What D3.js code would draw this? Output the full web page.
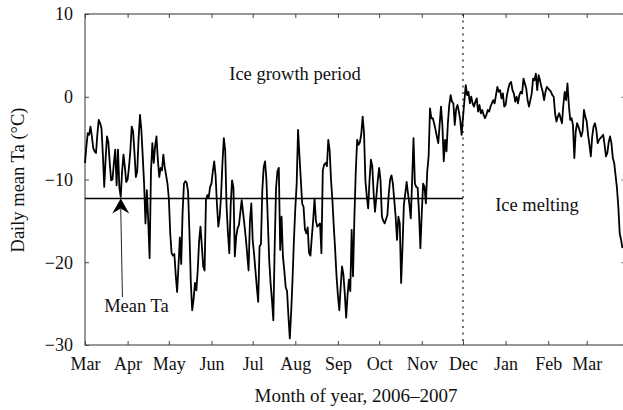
<!DOCTYPE html>
<html>
<head>
<meta charset="utf-8">
<script src="https://cdn.jsdelivr.net/npm/d3@7"></script>
<style>
  html, body { margin: 0; padding: 0; background: #fff; }
  svg { display: block; }
  text { font-family: "Liberation Serif", "Times New Roman", serif; fill: #111; }
</style>
</head>
<body>
<svg id="chart" width="623" height="410"></svg>
<script>
// Daily mean air temperature (°C), one value per day from 1 Mar 2006
const seriesStart = "2006-03-01";
const marchTa = [-8.0,-6.0,-4.4,-4.6,-3.6,-4.8,-6.2,-6.6,-6.8,-4.5,-2.8,-3.2,-3.8,-7.0,-10.9,-7.5,-4.8,-5.5,-8.0,-10.1,-10.0,-8.0,-6.4,-10.7,-6.4,-11.0,-12.1,-9.0,-7.0,-8.5,-10.3];
const aprilTa = [-10.0,-8.5,-6.5,-3.6,-4.2,-6.8,-9.7,-9.0,-5.0,-2.2,-4.0,-7.2,-10.5,-15.3,-11.3,-15.0,-19.5,-9.0,-5.6,-8.0,-6.0,-4.8,-7.6,-9.7,-8.6,-8.9,-7.0,-8.5,-9.5,-10.5];
const mayTa = [-12.3,-16.5,-18.9,-19.2,-19.0,-21.5,-23.6,-20.5,-17.0,-20.2,-14.0,-10.5,-10.2,-10.4,-11.5,-16.5,-22.5,-25.8,-24.5,-22.5,-23.4,-21.0,-17.5,-15.7,-18.0,-20.5,-21.0,-12.5,-11.9,-12.2,-10.9];
const juneTa = [-10.5,-9.0,-7.8,-9.5,-13.0,-15.7,-14.5,-11.9,-8.0,-5.0,-6.5,-13.3,-16.5,-18.9,-13.0,-10.1,-11.0,-19.3,-16.9,-15.9,-15.5,-14.0,-12.5,-14.0,-15.5,-17.1,-19.0,-21.0,-15.0,-12.9];
const julyTa = [-17.3,-19.0,-21.0,-23.0,-24.8,-18.1,-17.8,-11.3,-8.5,-7.8,-10.1,-15.0,-19.7,-22.5,-24.5,-27.0,-18.1,-11.0,-9.0,-8.6,-18.5,-14.5,-19.3,-21.0,-23.0,-23.5,-26.5,-29.2,-26.0,-22.0,-17.3];
const augustTa = [-13.5,-10.5,-4.0,-7.0,-10.0,-12.9,-13.3,-16.0,-16.5,-15.8,-18.9,-19.2,-17.0,-14.9,-12.3,-15.0,-15.7,-15.5,-15.3,-18.9,-8.9,-8.2,-8.0,-8.4,-5.2,-6.5,-10.1,-12.5,-15.7,-18.5,-21.7];
const septemberTa = [-24.0,-25.8,-23.0,-20.5,-21.5,-23.8,-26.7,-24.0,-22.1,-23.5,-16.1,-21.7,-14.5,-9.0,-5.2,-5.8,-5.5,-4.5,-2.4,-4.4,-10.1,-12.0,-13.5,-10.1,-7.6,-8.4,-11.7,-13.9,-12.0,-10.1];
const octoberTa = [-8.6,-10.1,-14.5,-15.0,-15.3,-14.8,-14.3,-11.7,-10.0,-9.5,-10.5,-12.5,-14.5,-17.3,-14.5,-15.3,-22.5,-18.1,-13.0,-11.7,-10.3,-11.7,-13.0,-14.7,-10.1,-5.0,-10.5,-10.9,-11.0,-14.0,-18.3];
const novemberTa = [-14.1,-10.5,-10.9,-12.9,-9.0,-7.2,-1.4,-2.6,-2.6,-3.2,-4.0,-4.8,-5.6,-3.4,-1.2,-3.4,-7.8,-5.2,-6.6,-3.2,-1.0,0.2,-0.6,-0.8,-3.4,-1.5,-1.0,-1.8,-2.8,-4.6];
const decemberTa = [-2.5,-0.5,1.4,0.2,0.6,-0.8,0.0,-0.8,-1.2,-0.6,-0.2,-1.8,-1.0,-2.0,-1.6,-2.2,-2.6,-2.2,-1.6,-1.8,-1.2,-0.8,-0.4,-0.8,0.2,1.2,0.6,0.8,-0.2,0.4,-1.2];
const januaryTa = [-1.0,0.2,1.0,1.6,1.8,0.8,0.4,-0.6,0.0,-0.8,0.2,0.6,0.4,2.2,1.6,1.0,-0.4,-1.2,-0.4,0.4,2.2,2.0,2.8,0.8,2.6,2.0,1.2,0.6,-0.4,0.6,1.2];
const februaryTa = [1.0,0.8,0.6,0.2,0.0,-2.0,-3.0,-2.4,-2.0,-2.6,-3.2,-1.0,0.6,-0.4,1.6,-1.0,-2.8,-2.6,-3.4,-7.4,-4.2,-3.2,-3.6,-4.2,-4.8,-4.2,-1.6,-2.4];
const march2007Ta = [-3.0,-4.6,-5.8,-7.2,-4.8,-3.6,-3.2,-4.0,-5.6,-5.2,-5.0,-4.8,-4.6,-5.8,-7.2,-6.8,-5.5,-4.8,-5.6,-7.4,-8.0,-9.5,-11.0,-13.3,-16.5,-17.3,-18.3];

const meanTa = -12.3;                 // season mean
const meanArrowDate = "2006-03-27";   // where the "Mean Ta" pointer sits
const iceMeltStart = "2006-12-01";    // dotted divider
const yTicks = [-30, -20, -10, 0, 10];
const monthLabels = ["Mar","Apr","May","Jun","Jul","Aug","Sep","Oct","Nov","Dec","Jan","Feb","Mar"];

const dailyTa = [].concat(marchTa, aprilTa, mayTa, juneTa, julyTa, augustTa,
  septemberTa, octoberTa, novemberTa, decemberTa, januaryTa, februaryTa, march2007Ta);

const parseDay = d3.utcParse("%Y-%m-%d");
const t0 = parseDay(seriesStart);
const series = dailyTa.map((v, i) => ({ date: d3.utcDay.offset(t0, i), value: v }));

// layout
const plotLeft = 85, plotTop = 14, plotBottom = 345, frameRight = 625;
const x = d3.scaleUtc()
  .domain([parseDay("2006-03-01"), parseDay("2007-03-01")])
  .range([plotLeft, 586.7]);
const y = d3.scaleLinear().domain([-30, 10]).range([plotBottom, plotTop]);

const svg = d3.select("#chart");
const monthTicks = d3.utcMonth.range(parseDay("2006-03-01"), parseDay("2007-03-02"));
const serif = "Liberation Serif, Times New Roman, serif";

// frame
svg.append("rect")
  .attr("x", plotLeft).attr("y", plotTop)
  .attr("width", frameRight - plotLeft).attr("height", plotBottom - plotTop)
  .attr("fill", "none").attr("stroke", "#444").attr("stroke-width", 1.1);

// bottom axis with labels, ticks pointing inward
svg.append("g")
  .attr("transform", `translate(0,${plotBottom})`)
  .call(d3.axisBottom(x).tickValues(monthTicks)
    .tickFormat((d, i) => monthLabels[i]).tickSizeInner(-4).tickSizeOuter(0).tickPadding(12))
  .call(g => g.select(".domain").remove())
  .call(g => g.selectAll(".tick line").attr("stroke", "#444"))
  .call(g => g.selectAll("text").attr("font-size", 18).attr("fill", "#111").attr("font-family", serif));

// top axis, ticks only
svg.append("g")
  .attr("transform", `translate(0,${plotTop})`)
  .call(d3.axisTop(x).tickValues(monthTicks).tickFormat("").tickSizeInner(-4).tickSizeOuter(0))
  .call(g => g.select(".domain").remove())
  .call(g => g.selectAll(".tick line").attr("stroke", "#444"));

// left axis with labels
svg.append("g")
  .attr("transform", `translate(${plotLeft},0)`)
  .call(d3.axisLeft(y).tickValues(yTicks).tickSizeInner(-4).tickSizeOuter(0).tickPadding(12))
  .call(g => g.select(".domain").remove())
  .call(g => g.selectAll(".tick line").attr("stroke", "#444"))
  .call(g => g.selectAll("text").attr("font-size", 18).attr("fill", "#111").attr("font-family", serif));

// right axis, ticks only
svg.append("g")
  .attr("transform", `translate(${frameRight},0)`)
  .call(d3.axisRight(y).tickValues(yTicks).tickFormat("").tickSizeInner(-4).tickSizeOuter(0))
  .call(g => g.select(".domain").remove())
  .call(g => g.selectAll(".tick line").attr("stroke", "#888"));

// dotted divider at the start of ice melting
const xMelt = x(parseDay(iceMeltStart));
svg.append("line")
  .attr("x1", xMelt).attr("x2", xMelt)
  .attr("y1", plotTop).attr("y2", plotBottom)
  .attr("stroke", "#222").attr("stroke-width", 1.3)
  .attr("stroke-dasharray", "2,4.5");

// mean line over the growth period
svg.append("line")
  .attr("x1", x(t0)).attr("x2", xMelt)
  .attr("y1", y(meanTa)).attr("y2", y(meanTa))
  .attr("stroke", "#000").attr("stroke-width", 1.6);

// temperature series
svg.append("path")
  .datum(series)
  .attr("fill", "none")
  .attr("stroke", "#000")
  .attr("stroke-width", 1.8)
  .attr("stroke-linejoin", "round")
  .attr("d", d3.line().x(d => x(d.date)).y(d => y(d.value)));

// "Mean Ta" pointer
const ax = x(parseDay(meanArrowDate)), ay = y(meanTa);
svg.append("line")
  .attr("x1", ax + 1.7).attr("y1", 297)
  .attr("x2", ax).attr("y2", ay + 10)
  .attr("stroke", "#222").attr("stroke-width", 1);
svg.append("path")
  .attr("d", `M${ax},${ay} L${ax + 8.5},${ay + 15} L${ax},${ay + 10} L${ax - 8.5},${ay + 15} Z`)
  .attr("fill", "#000");

svg.append("text").attr("x", 136.5).attr("y", 311.5)
  .attr("text-anchor", "middle").attr("font-size", 18.5).text("Mean Ta");

// period annotations
svg.append("text").attr("x", 295).attr("y", 80)
  .attr("text-anchor", "middle").attr("font-size", 18.5).text("Ice growth period");
svg.append("text").attr("x", 537).attr("y", 211)
  .attr("text-anchor", "middle").attr("font-size", 18.5).text("Ice melting");

// axis titles
svg.append("text").attr("x", 356).attr("y", 402)
  .attr("text-anchor", "middle").attr("font-size", 19).text("Month of year, 2006–2007");
svg.append("text")
  .attr("transform", "translate(24,180) rotate(-90)")
  .attr("text-anchor", "middle").attr("font-size", 18.5).text("Daily mean Ta (°C)");
</script>
</body>
</html>
